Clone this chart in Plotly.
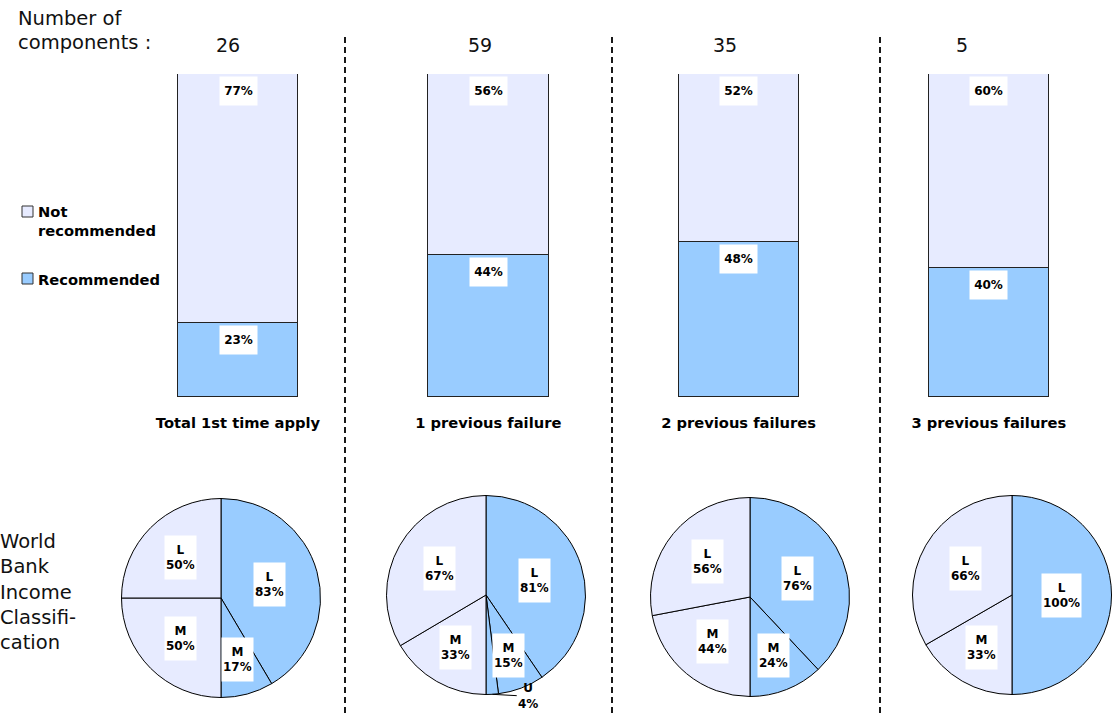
import math
import plotly.graph_objects as go

# ---- data -------------------------------------------------------------
categories = ["Total 1st time apply", "1 previous failure",
              "2 previous failures", "3 previous failures"]
n_components = [26, 59, 35, 5]
recommended = [23, 44, 48, 40]
not_recommended = [77, 56, 52, 60]

# World Bank income classification inside each group (percent)
rec_levels = ["L", "M", "U"]
rec_income = [[83, 17, 0], [81, 15, 4], [76, 24, 0], [100, 0, 0]]
notrec_levels = ["M", "L"]
notrec_income = [[50, 50], [33, 67], [44, 56], [33, 66]]

# ---- style ------------------------------------------------------------
W, H = 1112, 713
REC = "#99CCFF"
NOTREC = "#E7EBFF"
EDGE = "#222222"
BOLD = "DejaVu Sans"
REG = "DejaVu Sans"


def px(x):
    return x / W


def py(y):
    return 1 - y / H


fig = go.Figure()

# ---- stacked bars -----------------------------------------------------
fig.add_trace(go.Bar(x=categories, y=recommended, name="Recommended", width=0.48,
                     marker=dict(color=REC, line=dict(color=EDGE, width=1)),
                     showlegend=False))
fig.add_trace(go.Bar(x=categories, y=not_recommended, name="Not recommended", width=0.48,
                     marker=dict(color=NOTREC, line=dict(color=EDGE, width=1)),
                     showlegend=False))

annotations = []
for i, cat in enumerate(categories):
    for top, val in ((recommended[i], recommended[i]),
                     (recommended[i] + not_recommended[i], not_recommended[i])):
        annotations.append(dict(
            x=cat, y=top, xref="x", yref="y", xanchor="center", yanchor="top",
            yshift=-2, text=f"<b>{val}%</b>", showarrow=False, bgcolor="white",
            width=35, height=26, borderpad=1,
            font=dict(family=BOLD, size=12, color="black")))

# component counts above the bars
count_shift = [-10, -8, -14, -27]
for i, cat in enumerate(categories):
    annotations.append(dict(
        x=cat, y=py(45), xref="x", yref="paper", xanchor="center", yanchor="middle",
        xshift=count_shift[i], text=str(n_components[i]), showarrow=False,
        font=dict(family=REG, size=19, color="#111111")))

# ---- pies ---------------------------------------------------------------
pie_centers = [(221, 598), (486, 595), (750, 597), (1012, 595)]
R = 99.5

for i in range(len(categories)):
    cx, cy = pie_centers[i]
    rs = sum(rec_income[i])
    ns = sum(notrec_income[i])
    slices = []
    for lvl, v in zip(rec_levels, rec_income[i]):
        if v > 0:
            slices.append(("Recommended " + lvl, lvl, v, v / rs / 2, REC))
    for lvl, v in zip(notrec_levels, notrec_income[i]):
        if v > 0:
            slices.append(("Not recommended " + lvl, lvl, v, v / ns / 2, NOTREC))

    fig.add_trace(go.Pie(
        labels=[s[0] for s in slices], values=[s[3] for s in slices],
        marker=dict(colors=[s[4] for s in slices], line=dict(color="black", width=1)),
        sort=False, direction="clockwise", rotation=0, textinfo="none",
        showlegend=False,
        domain=dict(x=[px(cx - R), px(cx + R)], y=[py(cy + R), py(cy - R)])))

    # slice labels
    start = 0.0
    for _, lvl, v, frac, _c in slices:
        span = frac * 360
        mid = math.radians(start + span / 2)
        start += span
        if span < 10:
            hx = cx + R * math.sin(mid)
            hy = cy - R * math.cos(mid)
            annotations.append(dict(
                x=px(hx), y=py(hy), xref="paper", yref="paper",
                xanchor="center", yanchor="middle",
                text=f"<b>{lvl}<br>{v}%</b>", showarrow=True, arrowhead=0,
                arrowwidth=1, arrowcolor="black", ax=36, ay=2, standoff=0,
                font=dict(family=BOLD, size=12, color="black")))
            continue
        rf = 0.68 - 0.18 * min(1.0, span / 150)
        lx = cx + rf * R * math.sin(mid)
        ly = cy - rf * R * math.cos(mid)
        annotations.append(dict(
            x=px(lx), y=py(ly), xref="paper", yref="paper",
            xanchor="center", yanchor="middle",
            text=f"<b>{lvl}<br>{v}%</b>", showarrow=False, bgcolor="white",
            height=41, borderpad=1,
            font=dict(family=BOLD, size=12, color="black")))

# ---- side texts ---------------------------------------------------------
side = dict(xref="paper", yref="paper", xanchor="left", yanchor="middle",
            align="left", showarrow=False)
annotations += [
    dict(x=px(16), y=py(18), text="Number of",
         font=dict(family=REG, size=19.5, color="#111111"), **side),
    dict(x=px(16), y=py(43), text="components :",
         font=dict(family=REG, size=19.5, color="#111111"), **side),
    dict(x=px(-2), y=py(592), text="World<br>Bank<br>Income<br>Classifi-<br>cation",
         font=dict(family=REG, size=19.5, color="#111111"), **side),
    dict(x=px(36), y=py(221), text="<b>Not<br>recommended</b>",
         font=dict(family=BOLD, size=14.7, color="black"), **side),
    dict(x=px(36), y=py(279), text="<b>Recommended</b>",
         font=dict(family=BOLD, size=14.7, color="black"), **side),
]

shapes = [
    dict(type="rect", xref="paper", yref="paper", x0=px(22), x1=px(33),
         y0=py(217), y1=py(206), fillcolor=NOTREC, line=dict(color="#333333", width=1)),
    dict(type="rect", xref="paper", yref="paper", x0=px(22), x1=px(33),
         y0=py(284), y1=py(273), fillcolor=REC, line=dict(color="#333333", width=1)),
]
for xd in (345, 612, 880):
    shapes.append(dict(type="line", xref="paper", yref="paper",
                       x0=px(xd), x1=px(xd), y0=py(713), y1=py(34),
                       line=dict(color="black", width=1.8, dash="6px,4px")))

fig.update_layout(
    width=W, height=H, margin=dict(l=0, r=0, t=0, b=0),
    paper_bgcolor="white", plot_bgcolor="white",
    barmode="stack", bargap=0,
    xaxis=dict(domain=[px(112.85), px(1101.5)], range=[-0.5, 3.45],
               showgrid=False, zeroline=False, showline=False, ticks="",
               ticklabelstandoff=15,
               tickfont=dict(family=BOLD, size=14.7, color="black", weight="bold")),
    yaxis=dict(domain=[py(397), py(74)], range=[0, 100], visible=False),
    annotations=annotations, shapes=shapes,
)

fig.write_html("out.html")
